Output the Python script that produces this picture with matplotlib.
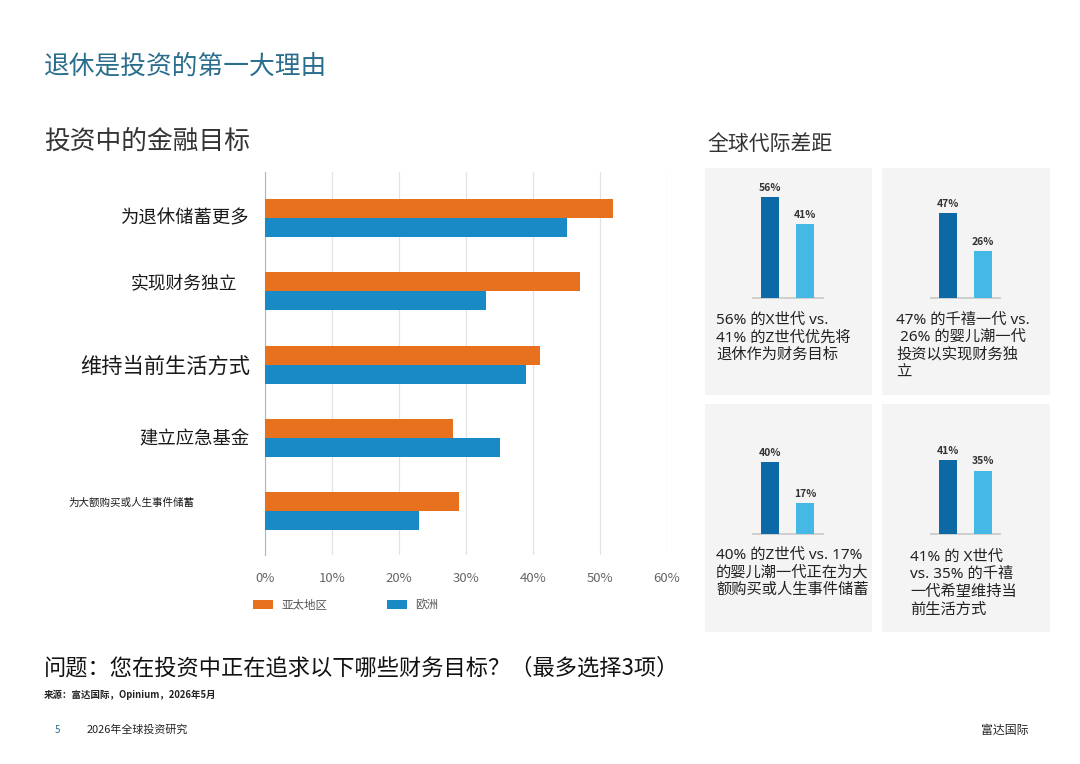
import numpy as np
import matplotlib.pyplot as plt
from matplotlib.patches import Rectangle
import matplotlib.transforms as mtransforms

plt.rcParams['font.family'] = ['Noto Sans CJK SC', 'DejaVu Sans']

# ---- data ----
goals = ["为退休储蓄更多", "实现财务独立", "维持当前生活方式", "建立应急基金", "为大额购买或人生事件储蓄"]
apac = [52, 47, 41, 28, 29]
europe = [45, 33, 39, 35, 23]
series_names = ["亚太地区", "欧洲"]
x_ticks = [0, 10, 20, 30, 40, 50, 60]

gen_values = [[56, 41], [47, 26], [40, 17], [41, 35]]
gen_texts = [
    ["56% 的X世代 vs.", "41% 的Z世代优先将", "退休作为财务目标"],
    ["47% 的千禧一代 vs.", " 26% 的婴儿潮一代", "投资以实现财务独", "立"],
    ["40% 的Z世代 vs. 17%", "的婴儿潮一代正在为大", "额购买或人生事件储蓄"],
    ["41% 的 X世代", "vs. 35% 的千禧", "一代希望维持当", "前生活方式"],
]

ORANGE = "#e8711f"
BLUE = "#1a8ac6"
DARK_BLUE = "#0d68a6"
LIGHT_BLUE = "#45b8e6"
TEAL = "#2a6e8e"
PANEL_FONT = ['Noto Sans', 'Noto Sans CJK SC']

W, H = 1080, 764
fig = plt.figure(figsize=(W / 100, H / 100), dpi=100)


def fx(px):
    return px / W


def fy(py):
    return 1 - py / H


def box(x0, y0, x1, y1):
    # pixel box -> [left, bottom, width, height] in figure fraction
    return [fx(x0), fy(y1), (x1 - x0) / W, (y1 - y0) / H]


# ---- titles ----
fig.text(fx(44), fy(66), "退休是投资的第一大理由", fontsize=18.5, color=TEAL, va="center")
fig.text(fx(44), fy(142), "投资中的金融目标", fontsize=18.5, color="#333333", va="center")
fig.text(fx(707), fy(144), "全球代际差距", fontsize=15, color="#333333", va="center")

# ---- main bar chart ----
ax = fig.add_axes(box(265, 172, 667, 555))
pos = np.arange(len(goals))
bh = 0.26
ax.barh(pos - bh / 2, apac, height=bh, color=ORANGE, label=series_names[0], zorder=3)
ax.barh(pos + bh / 2, europe, height=bh, color=BLUE, label=series_names[1], zorder=3)
ax.set_xlim(0, 60)
ax.set_ylim(4.6, -0.63)
ax.set_xticks(x_ticks)
ax.set_xticklabels([f"{t}%" for t in x_ticks], fontsize=9.5, color="#666666")
ax.tick_params(axis="x", length=0, pad=12)
ax.set_yticks([])
ax.grid(axis="x", color="#e3e3e3", linewidth=0.9, zorder=0)
for s in ["top", "right", "bottom"]:
    ax.spines[s].set_visible(False)
ax.spines["left"].set_color("#b5b5b5")

label_style = [(250, 13.2, 0.0), (237, 12.8, -0.11), (250, 15.3, 0.03), (250, 13.2, 0.02), (194, 7.6, -0.11)]
trans = mtransforms.blended_transform_factory(fig.transFigure, ax.transData)
for i, (name, (xr, fs, dy)) in enumerate(zip(goals, label_style)):
    ax.text(fx(xr), i + dy, name, transform=trans, ha="right", va="center",
            fontsize=fs, color="#1a1a1a")

ax.legend(loc="center left", bbox_to_anchor=(fx(253), fy(605)), bbox_transform=fig.transFigure,
          ncol=2, frameon=False, fontsize=8.3, labelcolor="#555555",
          handlelength=1.75, handleheight=0.85, handletextpad=0.7,
          columnspacing=5.2, borderpad=0, borderaxespad=0)

# ---- generation panels ----
panels = [(705, 168, 872, 395), (882, 168, 1050, 395), (705, 404, 872, 632), (882, 404, 1050, 632)]
mini_x = [752.5, 930.5, 752.5, 930.5]
base_y = [298, 298, 534, 534]
for k, (x0, y0, x1, y1) in enumerate(panels):
    fig.patches.append(Rectangle((fx(x0), fy(y1)), (x1 - x0) / W, (y1 - y0) / H,
                                 transform=fig.transFigure, facecolor="#f4f4f4",
                                 edgecolor="none", zorder=-5))
    mx = mini_x[k]
    by = base_y[k]
    ma = fig.add_axes(box(mx, by - 108, mx + 70, by))
    ma.patch.set_alpha(0)
    vals = gen_values[k]
    ma.bar([0, 1], vals, width=0.51, color=[DARK_BLUE, LIGHT_BLUE], zorder=3)
    for xi, v in zip([0, 1], vals):
        ma.text(xi, v + 2.5, f"{v}%", ha="center", va="bottom", fontsize=7.5,
                fontweight="bold", color="#333333", clip_on=False)
    ma.set_xlim(-0.5, 1.5)
    ma.set_ylim(0, 60)
    ma.set_xticks([])
    ma.set_yticks([])
    for s in ["top", "right", "left"]:
        ma.spines[s].set_visible(False)
    ma.spines["bottom"].set_color("#c8c8c8")
    ma.spines["bottom"].set_linewidth(1.2)

text_x = [716, 896, 716, 910]
text_y = [320, 320, 555, 557]
for k, lines in enumerate(gen_texts):
    for j, line in enumerate(lines):
        fig.text(fx(text_x[k]), fy(text_y[k] + j * 17.7), line, fontsize=11,
                 family=PANEL_FONT, color="#222222", va="center")

# ---- footer ----
fig.text(fx(44), fy(668), "问题：您在投资中正在追求以下哪些财务目标？（最多选择3项）",
         fontsize=16, color="#111111", va="center")
fig.text(fx(44), fy(695), "来源：富达国际，Opinium，2026年5月", fontsize=6.8,
         fontweight="bold", color="#222222", va="center")
fig.text(fx(55), fy(730), "5", fontsize=7, color=TEAL, va="center")
fig.text(fx(87), fy(730), "2026年全球投资研究", fontsize=7.9, color="#222222", va="center")
fig.text(fx(1028), fy(730), "富达国际", fontsize=8.6, color="#222222", va="center", ha="right")

fig.savefig("out.png", dpi=100, facecolor="white")
